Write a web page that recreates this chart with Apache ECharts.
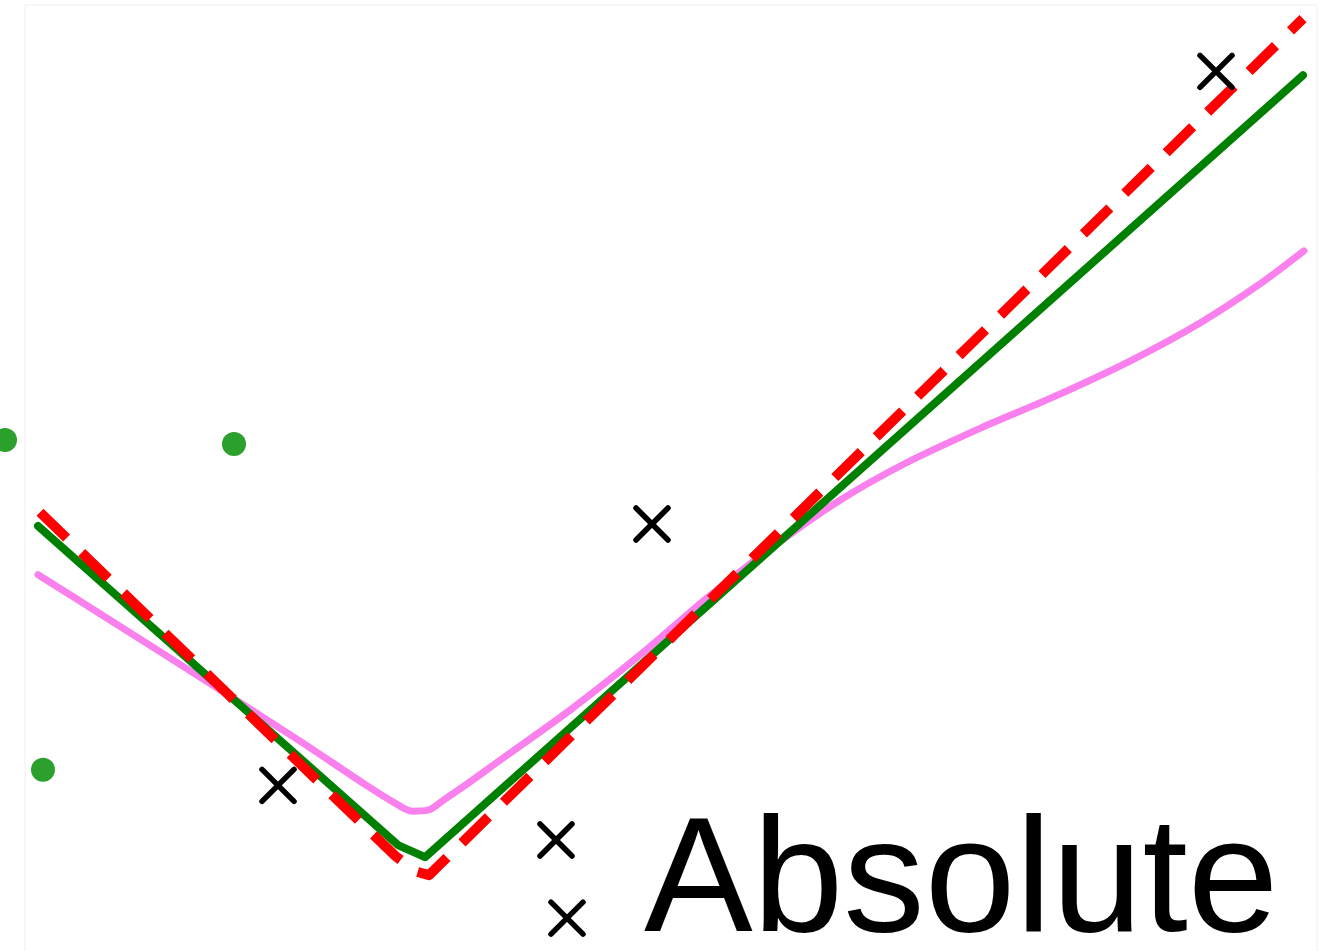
<!DOCTYPE html>
<html>
<head>
<meta charset="utf-8">
<script src="https://cdn.jsdelivr.net/npm/echarts@6/dist/echarts.min.js"></script>
<style>
  html, body { margin: 0; padding: 0; background: #fff; }
  #chart { width: 1331px; height: 951px; }
</style>
</head>
<body>
<div id="chart"></div>
<script>
// Training points (green dots)
const trainX = [-2.1, -0.955, -1.91];
const trainY = [2.23, 2.21, 0.54];
// Test points (black crosses)
const testX = [-0.735, 1.135, 0.655, 0.71, 3.955];
const testY = [0.46, 1.80, 0.18, -0.22, 4.12];
// True function (red dashed)
const trueX = [-1.925, -0.15, -0.05, 0.02, 4.39];
const trueY = [1.86, 0.10, 0.02, 0.0, 4.39];
// Fit 1 (green)
const fitAX = [-1.935, -0.135, 0.0, 4.39];
const fitAY = [1.79, 0.154, 0.092, 4.10];
// Fit 2 (pink)
const fitBX = [-1.935, -1.625, -1.125, -0.625, -0.3, -0.15, -0.065, 0.015, 0.1, 0.2, 0.375, 0.725, 1.075, 1.415, 1.785, 2.075, 2.4, 2.775, 3.14, 3.525, 3.875, 4.175, 4.395];
const fitBY = [1.54, 1.34, 1.015, 0.687, 0.465, 0.369, 0.328, 0.333, 0.39, 0.46, 0.589, 0.846, 1.128, 1.425, 1.717, 1.922, 2.11, 2.29, 2.45, 2.635, 2.83, 3.03, 3.20];
const label = 'Absolute';

const zip = (a, b) => a.map((v, i) => [v, b[i]]);

const chart = echarts.init(document.getElementById('chart'), null, { renderer: 'canvas' });
chart.setOption({
  animation: false,
  backgroundColor: '#ffffff',
  grid: {
    left: 25, width: 1292, top: 5, height: 956,
    outerBoundsMode: 'none', containLabel: false,
    show: true, borderColor: '#f0f0f0', borderWidth: 1, backgroundColor: 'transparent'
  },
  xAxis: {
    type: 'value', min: -2, max: 4.46,
    axisLine: { show: false }, axisTick: { show: false }, axisLabel: { show: false }, splitLine: { show: false }
  },
  yAxis: {
    type: 'value', min: -0.44, max: 4.46,
    axisLine: { show: false }, axisTick: { show: false }, axisLabel: { show: false }, splitLine: { show: false }
  },
  series: [
    {
      type: 'line', data: zip(fitBX, fitBY), showSymbol: false, symbol: 'none', smooth: 0.3,
      lineStyle: { color: '#fa80ee', width: 7, cap: 'round', join: 'round' }, clip: false, z: 2
    },
    {
      type: 'line', data: zip(fitAX, fitAY), showSymbol: false, symbol: 'none',
      lineStyle: { color: '#008000', width: 8, cap: 'round', join: 'round' }, clip: false, z: 3
    },
    {
      type: 'line', data: zip(trueX, trueY), showSymbol: false, symbol: 'none',
      lineStyle: { color: '#ff0000', width: 10, type: [37, 21], cap: 'butt', join: 'round' }, clip: false, z: 4
    },
    {
      type: 'scatter', data: zip(trainX, trainY), symbol: 'circle', symbolSize: 24,
      itemStyle: { color: '#2ca02c', opacity: 1 }, clip: false, z: 5
    },
    {
      type: 'scatter', data: zip(testX, testY), symbol: 'path://M0,0L10,10M10,0L0,10', symbolSize: 32,
      itemStyle: { color: 'rgba(0,0,0,0)', borderColor: '#000000', borderWidth: 5.5, borderCap: 'round', opacity: 1 }, clip: false, z: 6
    }
  ],
  graphic: [
    {
      type: 'text', left: 644, top: 805, z: 100,
      style: { text: label, font: '163px "Liberation Sans", Arial, sans-serif', fill: '#000000' }
    }
  ]
});
</script>
</body>
</html>
